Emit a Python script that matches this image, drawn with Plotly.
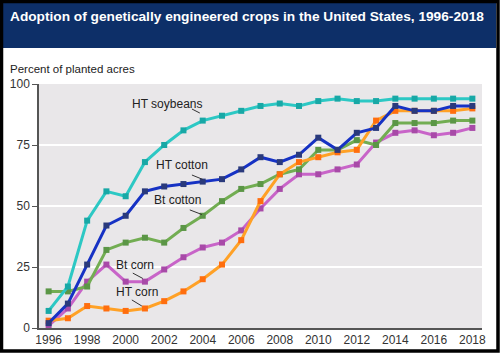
import plotly.graph_objects as go

years = list(range(1996, 2019))
ht_soybeans = [7, 17, 44, 56, 54, 68, 75, 81, 85, 87, 89, 91, 92, 91, 93, 94, 93, 93, 94, 94, 94, 94, 94]
ht_cotton = [2, 10, 26, 42, 46, 56, 58, 59, 60, 61, 65, 70, 68, 71, 78, 73, 80, 82, 91, 89, 89, 91, 91]
bt_cotton = [15, 15, 17, 32, 35, 37, 35, 41, 46, 52, 57, 59, 63, 65, 73, 73, 77, 75, 84, 84, 84, 85, 85]
bt_corn = [1, 8, 19, 26, 19, 19, 24, 29, 33, 35, 40, 49, 57, 63, 63, 65, 67, 76, 80, 81, 79, 80, 82]
ht_corn = [3, 4, 9, 8, 7, 8, 11, 15, 20, 26, 36, 52, 63, 68, 70, 72, 73, 85, 89, 89, 89, 89, 90]
y_ticks = [0, 25, 50, 75, 100]
x_ticks = list(range(1996, 2019, 2))

series = [
    ("Bt corn", bt_corn, "#c864c8", "#a84aa8"),
    ("Bt cotton", bt_cotton, "#72ad52", "#5b9646"),
    ("HT corn", ht_corn, "#ffa126", "#ff6e0e"),
    ("HT cotton", ht_cotton, "#1632c4", "#2a3a7c"),
    ("HT soybeans", ht_soybeans, "#2cc8c4", "#18a8a6"),
]

W, H = 500, 353
ML, MR, MT, MB = 39, 18, 84, 25
PW, PH = W - ML - MR, H - MT - MB


def px(x):
    return (x - ML) / PW


def py(y):
    return (H - MB - y) / PH


fig = go.Figure()
for name, vals, lc, mc in series:
    fig.add_trace(go.Scatter(
        x=years, y=vals, mode="lines+markers", name=name,
        line=dict(color=lc, width=3),
        marker=dict(symbol="square", size=6, color=mc),
        showlegend=False, hoverinfo="skip",
    ))

labels = [
    ("HT soybeans", 2002.14, 91.8, (2003.44, 89.75, 2003.85, 88.1)),
    ("HT cotton", 2002.92, 66.8, (2003.44, 62.7, 2004.0, 60.9)),
    ("Bt cotton", 2002.71, 52.5, (2003.33, 48.4, 2003.96, 46.5)),
    ("Bt corn", 2000.47, 25.8, (2000.37, 22.5, 2000.89, 20.3)),
    ("HT corn", 2000.58, 14.75, (2000.32, 11.5, 2000.84, 9.0)),
]
annotations = []
shapes = []
for text, lx, ly, (x0, y0, x1, y1) in labels:
    annotations.append(dict(x=lx, y=ly, xref="x", yref="y", text=text, showarrow=False,
                            font=dict(family="Liberation Sans, Arial", size=12, color="#222222")))
    shapes.append(dict(type="line", xref="x", yref="y", x0=x0, y0=y0, x1=x1, y1=y1,
                       line=dict(color="#333333", width=1)))

# title bar (with its text as a shape label) and frame
shapes.append(dict(type="rect", xref="paper", yref="paper", layer="below",
                   x0=px(3), x1=px(496), y0=py(48), y1=py(3),
                   fillcolor="#0d2f68", line=dict(width=0),
                   label=dict(text="<b>Adoption of genetically engineered crops in the United States, 1996-2018</b>",
                              textposition="top left", padding=4,
                              font=dict(family="Liberation Sans, Arial", size=13.7, color="#ffffff"))))
shapes.append(dict(type="rect", xref="paper", yref="paper",
                   x0=px(7), x1=px(250), y0=py(74), y1=py(60),
                   fillcolor="rgba(0,0,0,0)", line=dict(width=0),
                   label=dict(text="Percent of planted acres", textposition="middle left", padding=0,
                              font=dict(family="Liberation Sans, Arial", size=11.5, color="#222222"))))
shapes.append(dict(type="rect", xref="paper", yref="paper",
                   x0=px(1.5), x1=px(498), y0=py(351), y1=py(1.5),
                   fillcolor="rgba(0,0,0,0)", line=dict(color="#000000", width=3.5)))

fig.update_layout(
    width=W, height=H,
    margin=dict(l=ML, r=MR, t=MT, b=MB, pad=0, autoexpand=False),
    paper_bgcolor="#ffffff", plot_bgcolor="#e9e7e9",
    shapes=shapes, annotations=annotations,
    xaxis=dict(range=[1995.5, 2018.5], tickvals=x_ticks, ticks="", showgrid=False, zeroline=False,
               showline=True, linecolor="#555555", linewidth=1.5, automargin=False,
               tickfont=dict(family="Liberation Sans, Arial", size=12, color="#333333")),
    yaxis=dict(range=[0, 100], tickvals=y_ticks, ticks="outside", ticklen=5, tickcolor="#555555",
               showgrid=True, gridcolor="#ffffff", gridwidth=2, zeroline=False, automargin=False,
               showline=True, linecolor="#555555", linewidth=1.5,
               tickfont=dict(family="Liberation Sans, Arial", size=12, color="#333333")),
)
fig.write_html("out.html")
